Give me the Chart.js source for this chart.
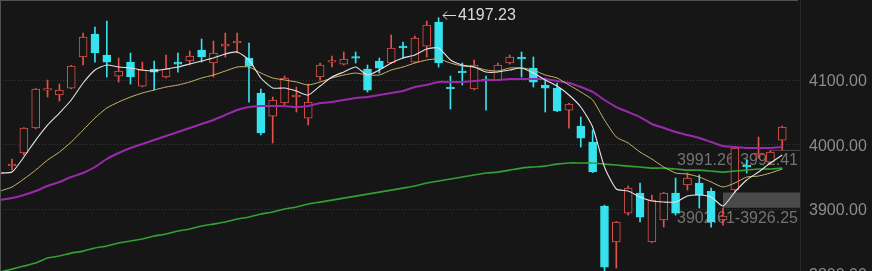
<!DOCTYPE html>
<html>
<head>
<meta charset="utf-8">
<script src="https://cdn.jsdelivr.net/npm/chart.js@4.4.1/dist/chart.umd.min.js"></script>
<style>
  html, body { margin: 0; padding: 0; background: #161616; }
  #kline { display: block; }
</style>
</head>
<body>
<canvas id="kline" width="872" height="271"></canvas>
<script>
// daily candles, oldest first
const opens = [3954.9, 3967.3, 3987.5, 4026.5, 4085.1, 4077.4, 4088.2, 4136.3, 4172.0, 4139.4,
  4106.8, 4128.5, 4091.3, 4117.7, 4105.3, 4128.5, 4130.1, 4147.2, 4127.0, 4153.3,
  4158.0, 4134.7, 4080.5, 4044.8, 4065.0, 4074.3, 4041.7, 4105.3, 4128.5, 4125.4,
  4136.3, 4117.7, 4130.1, 4127.0, 4153.3, 4128.5, 4153.3, 4190.6, 4089.8, 4114.6,
  4086.7, 4102.2, 4100.6, 4127.0, 4136.3, 4119.2, 4092.9, 4088.2, 4054.1, 4029.3,
  4004.5, 3905.3, 3849.5, 3894.4, 3925.4, 3849.5, 3883.6, 3925.4, 3937.9, 3940.9,
  3928.5, 3883.6, 3930.1, 3968.9, 3984.4, 3973.5, 4007.6];
const highs = [3965.8, 3978.2, 4027.0, 4087.5, 4100.6, 4094.4, 4123.5, 4173.5, 4182.8, 4192.1,
  4134.7, 4142.5, 4128.5, 4130.1, 4139.4, 4142.5, 4145.6, 4164.2, 4161.1, 4173.5,
  4173.5, 4158.0, 4086.7, 4074.3, 4106.8, 4089.8, 4094.4, 4127.0, 4137.9, 4144.1,
  4144.1, 4123.9, 4134.7, 4170.4, 4159.6, 4168.9, 4192.1, 4197.23, 4106.8, 4127.0,
  4131.6, 4106.8, 4127.0, 4139.4, 4144.1, 4136.3, 4103.7, 4096.0, 4064.5, 4043.3,
  4023.1, 3906.8, 3881.5, 3936.3, 3940.9, 3922.4, 3926.5, 3948.7, 3956.5, 3953.4,
  3933.2, 3902.61, 3996.8, 3976.6, 4012.3, 3991.26, 4029.3];
const lows = [3948.7, 3961.1, 3984.4, 4025.0, 4074.3, 4068.1, 4087.0, 4123.9, 4128.5, 4105.3,
  4097.5, 4094.4, 4090.0, 4085.1, 4104.0, 4113.0, 4123.9, 4128.5, 4105.3, 4136.3,
  4142.5, 4066.5, 4015.4, 4003.0, 4061.9, 4051.0, 4030.9, 4100.6, 4120.8, 4123.9,
  4127.0, 4082.0, 4111.5, 4126.0, 4134.7, 4127.5, 4136.3, 4120.8, 4055.7, 4092.9,
  4085.5, 4054.1, 4099.5, 4125.4, 4105.3, 4089.8, 4051.0, 4051.5, 4026.2, 3996.8,
  3957.0, 3800.0, 3809.2, 3891.3, 3880.5, 3848.5, 3872.7, 3891.3, 3930.1, 3902.2,
  3872.7, 3875.8, 3926.25, 3956.5, 3979.7, 3970.4, 3992.41];
const closes = [3958.0, 3970.4, 4026.2, 4086.7, 4086.7, 4085.1, 4122.3, 4167.3, 4142.5, 4128.5,
  4114.6, 4105.3, 4116.1, 4113.0, 4117.7, 4125.4, 4137.9, 4136.3, 4142.5, 4156.5,
  4161.1, 4122.3, 4018.5, 4069.6, 4103.7, 4077.4, 4066.5, 4123.9, 4130.1, 4133.2,
  4134.7, 4085.1, 4119.2, 4150.3, 4150.3, 4165.8, 4185.9, 4127.0, 4086.7, 4111.5,
  4123.9, 4099.1, 4123.9, 4136.3, 4133.2, 4097.5, 4088.2, 4052.6, 4063.4, 4010.7,
  3958.0, 3810.7, 3880.5, 3933.2, 3888.2, 3914.6, 3925.4, 3894.4, 3948.7, 3922.4,
  3880.5, 3889.8, 3995.2, 3965.8, 3987.5, 3989.0, 4027.8];

// moving averages as shown (they include days before the visible window)
const ma5 = [3956.5, 3958.0, 3981.3, 4007.6, 4030.9, 4049.5, 4069.7, 4096.0, 4116.2, 4123.9,
  4120.8, 4119.3, 4116.2, 4114.6, 4117.7, 4120.8, 4125.5, 4130.1, 4134.8, 4141.0,
  4144.1, 4131.7, 4103.8, 4088.3, 4088.3, 4083.6, 4077.4, 4091.4, 4105.3, 4113.1,
  4120.8, 4108.4, 4116.2, 4127.0, 4134.8, 4139.4, 4148.7, 4150.3, 4131.7, 4123.9,
  4120.8, 4113.1, 4113.1, 4116.2, 4119.3, 4111.5, 4100.7, 4091.4, 4077.4, 4058.8,
  4027.8, 3965.8, 3931.7, 3928.6, 3919.3, 3913.1, 3911.5, 3911.5, 3920.8, 3922.4,
  3919.3, 3905.3, 3927.0, 3945.6, 3958.0, 3972.0, 3984.4];
const ma10 = [3928.6, 3934.8, 3947.2, 3961.1, 3976.6, 3989.0, 4004.5, 4023.1, 4041.8, 4057.3,
  4066.6, 4074.3, 4080.5, 4085.2, 4089.8, 4092.9, 4097.6, 4103.8, 4108.4, 4114.6,
  4120.8, 4120.8, 4111.5, 4103.8, 4100.7, 4097.6, 4092.9, 4097.6, 4103.8, 4108.4,
  4111.5, 4108.4, 4108.4, 4116.2, 4120.8, 4127.0, 4131.7, 4133.2, 4127.0, 4122.4,
  4120.8, 4116.2, 4114.6, 4119.3, 4119.3, 4116.2, 4108.4, 4103.8, 4092.9, 4082.1,
  4069.7, 4038.7, 4012.3, 4003.0, 3989.0, 3978.2, 3965.8, 3956.5, 3954.9, 3950.3,
  3942.5, 3934.8, 3941.0, 3950.3, 3951.8, 3956.5, 3962.7];
const ma20 = [3914.6, 3917.7, 3922.4, 3928.6, 3936.3, 3942.5, 3950.3, 3956.5, 3965.8, 3978.2,
  3987.5, 3995.2, 4001.4, 4007.6, 4013.8, 4020.1, 4026.3, 4032.5, 4038.7, 4046.4,
  4054.2, 4058.8, 4060.4, 4060.4, 4060.4, 4058.8, 4060.4, 4065.0, 4066.6, 4069.7,
  4072.8, 4074.3, 4077.4, 4080.5, 4083.6, 4089.8, 4092.9, 4097.6, 4097.6, 4097.6,
  4099.1, 4100.7, 4100.7, 4102.2, 4102.2, 4102.2, 4102.2, 4099.1, 4096.0, 4089.8,
  4082.1, 4069.7, 4058.8, 4051.1, 4043.3, 4032.5, 4026.3, 4020.1, 4015.4, 4010.8,
  4004.5, 3998.3, 3996.8, 3995.2, 3995.2, 3995.2, 3996.8];
const ma60 = [3803.0, 3807.6, 3812.3, 3817.0, 3824.7, 3827.8, 3832.4, 3835.5, 3840.2, 3843.3,
  3848.0, 3851.1, 3854.2, 3858.8, 3861.9, 3866.6, 3869.7, 3874.3, 3877.4, 3880.5,
  3885.2, 3888.3, 3892.9, 3896.0, 3900.7, 3903.8, 3908.4, 3911.5, 3914.6, 3917.7,
  3920.8, 3923.9, 3927.0, 3930.1, 3933.2, 3936.3, 3941.0, 3944.1, 3947.2, 3950.3,
  3953.4, 3956.5, 3958.0, 3961.1, 3964.2, 3965.8, 3967.3, 3970.4, 3972.0, 3972.0,
  3972.0, 3970.4, 3968.9, 3967.3, 3965.8, 3964.2, 3964.2, 3962.7, 3961.1, 3961.1,
  3959.6, 3958.0, 3959.6, 3961.1, 3962.7, 3962.7, 3964.2];

const priceTicks = [3800, 3900, 4000, 4100];
// open price gaps: [low edge, high edge, candle index where the gap starts]
const gapLows = [3991.26, 3902.61];
const gapHighs = [3992.41, 3926.25];
const gapStarts = [65, 61];

const UP = "#e0524a";
const DOWN = "#35e2ee";
const BG = "#161616";
const FONT = "'Liberation Sans', Arial, sans-serif";

const idx = opens.map((v, i) => i);
const isUp = idx.map((i) => closes[i] >= opens[i]);

// frame lines, gap boxes and the high marker
const overlay = {
  id: "overlay",
  beforeDraw(chart) {
    const { ctx } = chart;
    ctx.save();
    ctx.fillStyle = BG;
    ctx.fillRect(0, 0, chart.width, chart.height);
    ctx.restore();
  },
  beforeDatasetsDraw(chart) {
    const { ctx, chartArea, scales } = chart;
    const x = scales.x, y = scales.y;
    ctx.save();
    ctx.font = "16px " + FONT;
    ctx.textAlign = "right";
    ctx.textBaseline = "middle";
    gapLows.forEach((lo, k) => {
      const top = y.getPixelForValue(gapHighs[k]);
      const bot = y.getPixelForValue(lo);
      const left = x.getPixelForValue(gapStarts[k]);
      ctx.fillStyle = "#4a4a4a";
      ctx.fillRect(left, top, chartArea.right - left, Math.max(1, bot - top));
      ctx.fillStyle = "#727272";
      ctx.fillText(lo.toFixed(2) + "-" + gapHighs[k].toFixed(2), chartArea.right - 2, bot + 10.5);
    });
    ctx.restore();
  },
  afterDraw(chart) {
    const { ctx, chartArea, scales } = chart;
    ctx.save();
    ctx.lineWidth = 1;
    ctx.strokeStyle = "#525252";
    ctx.beginPath();
    ctx.moveTo(0, 0.5);
    ctx.lineTo(chartArea.right - 2, 0.5);
    ctx.moveTo(0.5, 0);
    ctx.lineTo(0.5, chartArea.bottom);
    ctx.stroke();
    ctx.strokeStyle = "#2a2a2a";
    ctx.beginPath();
    ctx.moveTo(chartArea.right + 0.5, 0);
    ctx.lineTo(chartArea.right + 0.5, chart.height);
    ctx.stroke();

    // highest price marker: arrow + value
    let top = 0;
    highs.forEach((h, i) => { if (h > highs[top]) top = i; });
    const px = Math.round(scales.x.getPixelForValue(top)) + 4;
    const py = Math.round(scales.y.getPixelForValue(highs[top])) - 3 + 0.5;
    ctx.strokeStyle = "#dadada";
    ctx.lineWidth = 1;
    ctx.beginPath();
    ctx.moveTo(px, py);
    ctx.lineTo(px + 13, py);
    ctx.moveTo(px + 4, py - 4);
    ctx.lineTo(px, py);
    ctx.lineTo(px + 4, py + 4);
    ctx.stroke();
    ctx.font = "16px " + FONT;
    ctx.fillStyle = "#dadada";
    ctx.textAlign = "left";
    ctx.textBaseline = "middle";
    ctx.fillText(highs[top].toFixed(2), px + 15, py);
    ctx.restore();
  },
};

function lineSet(values, color, width, order) {
  return {
    type: "line",
    data: values.map((v, i) => ({ x: i, y: v })),
    borderColor: color,
    borderWidth: width,
    pointRadius: 0,
    tension: 0.2,
    order: order,
  };
}

new Chart(document.getElementById("kline"), {
  type: "bar",
  data: {
    datasets: [
      lineSet(ma5, "#e4e4e4", 1.1, 0),
      lineSet(ma10, "#c6b36c", 1, 0),
      lineSet(ma20, "#9a2aac", 2, 0),
      lineSet(ma60, "#33a033", 1.7, 0),
      {
        // bodies
        data: idx.map((i) => ({ x: i, y: [opens[i], closes[i]] })),
        backgroundColor: idx.map((i) => (isUp[i] ? BG : DOWN)),
        borderColor: idx.map((i) => (isUp[i] ? UP : DOWN)),
        borderWidth: 1,
        borderSkipped: false,
        barThickness: 8,
        minBarLength: 1.5,
        grouped: false,
        order: 1,
      },
      {
        // wicks
        data: idx.map((i) => ({ x: i, y: [lows[i], highs[i]] })),
        backgroundColor: idx.map((i) => (isUp[i] ? UP : DOWN)),
        borderWidth: 0,
        barThickness: 1,
        grouped: false,
        order: 2,
      },
    ],
  },
  options: {
    responsive: false,
    animation: false,
    devicePixelRatio: 1,
    layout: { padding: 0, autoPadding: false },
    plugins: {
      legend: { display: false },
      tooltip: { enabled: false },
    },
    scales: {
      x: {
        type: "linear",
        min: -0.013,
        max: 67.5,
        offset: false,
        display: false,
      },
      y: {
        position: "right",
        min: 3804.6,
        max: 4224.7,
        afterBuildTicks: function (scale) {
          scale.ticks = priceTicks.map((v) => ({ value: v }));
        },
        afterFit: function (scale) {
          scale.width = 72;
          scale.paddingTop = 0;
          scale.paddingBottom = 0;
        },
        grid: {
          color: "#383838",
          drawTicks: false,
        },
        border: { display: false, dash: [1, 2] },
        ticks: {
          autoSkip: false,
          padding: 9,
          labelOffset: 1.5,
          color: "#8c8c8c",
          font: { family: FONT, size: 16 },
          callback: function (value) {
            return Number(value).toFixed(2);
          },
        },
      },
    },
  },
  plugins: [overlay],
});
</script>
</body>
</html>
